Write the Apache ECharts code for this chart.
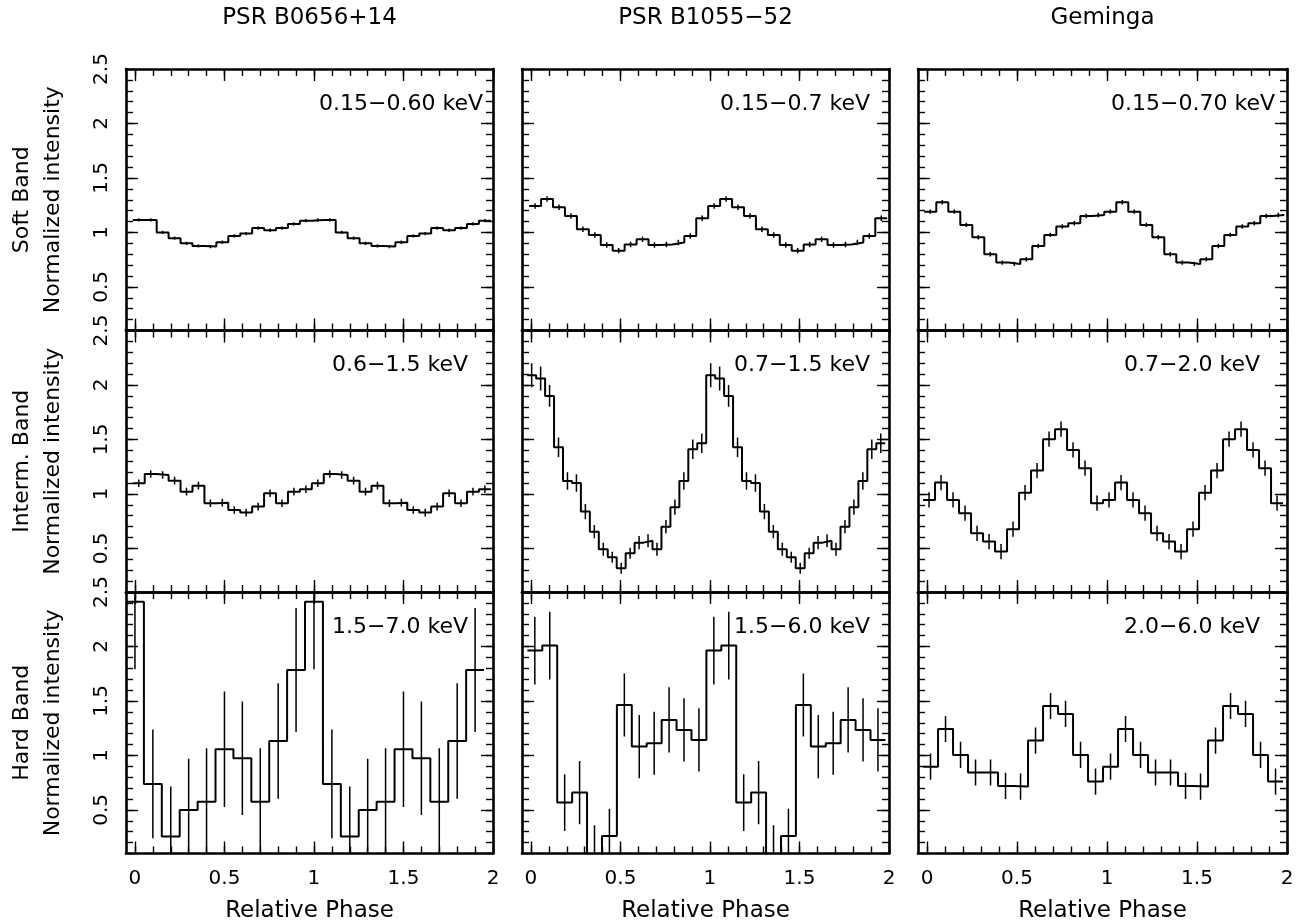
<!DOCTYPE html>
<html><head><meta charset="utf-8">
<script src="https://cdn.jsdelivr.net/npm/echarts@6/dist/echarts.min.js"></script>
<style>html,body{margin:0;padding:0;background:#fff}#c{width:1300px;height:924px}</style>
</head><body><div id="c"></div>
<script>
// ---------- labels ----------
const pulsars = ['PSR B0656+14', 'PSR B1055\u221252', 'Geminga'];
const bands = ['Soft Band', 'Interm. Band', 'Hard Band'];
const yName = 'Normalized intensity';
const xName = 'Relative Phase';
const energyLabels = [
  ['0.15\u22120.60 keV', '0.6\u22121.5 keV', '1.5\u22127.0 keV'],
  ['0.15\u22120.7 keV', '0.7\u22121.5 keV', '1.5\u22126.0 keV'],
  ['0.15\u22120.70 keV', '0.7\u22122.0 keV', '2.0\u22126.0 keV']
];
const xTickValues = [0, 0.5, 1, 1.5, 2];
const xTickLabels = ['0', '0.5', '1', '1.5', '2'];
const yTickValues = [0.5, 1, 1.5, 2, 2.5];
const yTickLabels = ['0.5', '1', '1.5', '2', '2.5'];

// ---------- data (normalized intensity per phase bin, two cycles) ----------
const b0656Soft = [1.115,1.115,1.000,0.947,0.900,0.876,0.870,0.910,0.968,0.990,1.040,1.020,1.040,1.078,1.108,
                   1.115,1.115,1.000,0.947,0.900,0.876,0.870,0.910,0.968,0.990,1.040,1.020,1.040,1.078,1.108];
const b0656SoftErr = [0.015,0.015,0.015,0.015,0.015,0.015,0.015,0.015,0.015,0.015,0.015,0.015,0.015,0.015,0.015,
                      0.015,0.015,0.015,0.015,0.015,0.015,0.015,0.015,0.015,0.015,0.015,0.015,0.015,0.015,0.015];
const b0656Mid = [1.098,1.183,1.174,1.122,1.021,1.076,0.914,0.920,0.853,0.829,0.884,1.006,0.914,1.021,1.043,
                  1.098,1.183,1.174,1.122,1.021,1.076,0.914,0.920,0.853,0.829,0.884,1.006,0.914,1.021,1.043];
const b0656MidErr = [0.035,0.035,0.035,0.035,0.035,0.035,0.035,0.035,0.035,0.035,0.035,0.035,0.035,0.035,0.035,
                     0.035,0.035,0.035,0.035,0.035,0.035,0.035,0.035,0.035,0.035,0.035,0.035,0.035,0.035,0.035];
const b0656Hard = [2.41,0.739,0.255,0.500,0.576,1.057,0.974,0.576,1.133,1.784,
                   2.41,0.739,0.255,0.500,0.576,1.057,0.974,0.576,1.133,1.784];
const b0656HardErr = [0.62,0.50,0.46,0.47,0.49,0.53,0.52,0.49,0.53,0.57,
                      0.62,0.50,0.46,0.47,0.49,0.53,0.52,0.49,0.53,0.57];

const b1055Soft = [1.243,1.307,1.231,1.151,1.029,0.977,0.885,0.833,0.890,0.937,0.885,0.890,0.907,0.968,1.130,
                   1.243,1.307,1.231,1.151,1.029,0.977,0.885,0.833,0.890,0.937,0.885,0.890,0.907,0.968,1.130];
const b1055SoftErr = [0.025,0.025,0.025,0.025,0.025,0.025,0.025,0.025,0.025,0.025,0.025,0.025,0.025,0.025,0.025,
                      0.025,0.025,0.025,0.025,0.025,0.025,0.025,0.025,0.025,0.025,0.025,0.025,0.025,0.025,0.025];
const b1055Mid = [2.090,2.060,1.900,1.428,1.119,1.100,0.838,0.654,0.493,0.419,0.318,0.456,0.553,0.570,0.493,0.700,0.878,1.119,1.410,1.465,
                  2.090,2.060,1.900,1.428,1.119,1.100,0.838,0.654,0.493,0.419,0.318,0.456,0.553,0.570,0.493,0.700,0.878,1.119,1.410,1.465];
const b1055MidErr = [0.11,0.11,0.10,0.09,0.08,0.08,0.07,0.06,0.06,0.05,0.05,0.05,0.06,0.06,0.06,0.06,0.07,0.08,0.09,0.09,
                     0.11,0.11,0.10,0.09,0.08,0.08,0.07,0.06,0.06,0.05,0.05,0.05,0.06,0.06,0.06,0.06,0.07,0.08,0.09,0.09];
const b1055Hard = [1.962,2.008,0.567,0.659,0.000,0.261,1.463,1.081,1.112,1.326,1.234,1.142,
                   1.962,2.008,0.567,0.659,0.000,0.261,1.463,1.081,1.112,1.326,1.234,1.142];
const b1055HardErr = [0.31,0.31,0.26,0.29,0.36,0.25,0.29,0.29,0.29,0.30,0.29,0.29,
                      0.31,0.31,0.26,0.29,0.36,0.25,0.29,0.29,0.29,0.30,0.29,0.29];

const gemSoft = [1.191,1.277,1.191,1.069,0.956,0.800,0.723,0.711,0.754,0.876,0.977,1.054,1.084,1.151,1.160,
                 1.191,1.277,1.191,1.069,0.956,0.800,0.723,0.711,0.754,0.876,0.977,1.054,1.084,1.151,1.160];
const gemSoftErr = [0.02,0.02,0.02,0.02,0.02,0.02,0.02,0.02,0.02,0.02,0.02,0.02,0.02,0.02,0.02,
                    0.02,0.02,0.02,0.02,0.02,0.02,0.02,0.02,0.02,0.02,0.02,0.02,0.02,0.02,0.02];
const gemMid = [0.945,1.104,0.945,0.823,0.639,0.563,0.471,0.676,1.012,1.214,1.502,1.594,1.404,1.236,0.915,
                0.945,1.104,0.945,0.823,0.639,0.563,0.471,0.676,1.012,1.214,1.502,1.594,1.404,1.236,0.915];
const gemMidErr = [0.07,0.07,0.07,0.07,0.07,0.07,0.07,0.07,0.07,0.07,0.07,0.07,0.07,0.07,0.07,
                   0.07,0.07,0.07,0.07,0.07,0.07,0.07,0.07,0.07,0.07,0.07,0.07,0.07,0.07,0.07];
const gemHard = [0.897,1.243,1.005,0.843,0.843,0.720,0.714,1.136,1.454,1.381,1.005,0.760,
                 0.897,1.243,1.005,0.843,0.843,0.720,0.714,1.136,1.454,1.381,1.005,0.760];
const gemHardErr = [0.12,0.12,0.12,0.12,0.12,0.12,0.12,0.12,0.12,0.12,0.12,0.12,
                    0.12,0.12,0.12,0.12,0.12,0.12,0.12,0.12,0.12,0.12,0.12,0.12];

// phase of first bin's left edge, bins per cycle
const panels = [
  {row:0,col:0,vals:b0656Soft,errs:b0656SoftErr,edge0:-0.012,perCycle:15},
  {row:1,col:0,vals:b0656Mid, errs:b0656MidErr, edge0:-0.012,perCycle:15},
  {row:2,col:0,vals:b0656Hard,errs:b0656HardErr,edge0:-0.05, perCycle:10},
  {row:0,col:1,vals:b1055Soft,errs:b1055SoftErr,edge0:-0.010,perCycle:15},
  {row:1,col:1,vals:b1055Mid, errs:b1055MidErr, edge0:-0.021,perCycle:20},
  {row:2,col:1,vals:b1055Hard,errs:b1055HardErr,edge0:-0.020,perCycle:12},
  {row:0,col:2,vals:gemSoft,  errs:gemSoftErr,  edge0:-0.015,perCycle:15},
  {row:1,col:2,vals:gemMid,   errs:gemMidErr,   edge0:-0.022,perCycle:15},
  {row:2,col:2,vals:gemHard,  errs:gemHardErr,  edge0:-0.022,perCycle:12}
];

// ---------- layout ----------
const colLeft = [126, 522, 918];
const colWidth = [367, 367, 369];
const rowTop = [69, 330.5, 592];
const rowHeight = 261.5;
const labelRight = [[483, 468, 468], [870, 870, 870], [1275, 1260, 1260]];
const FONT = 'DejaVu Sans';
const X_MIN = -0.05, X_MAX = 2, Y_MIN = 0.1, Y_MAX = 2.5;

const xMinor = []; for (let k = 0; k <= 20; k++) xMinor.push(+(k * 0.1).toFixed(1));
const yMinor = []; for (let k = 1; k <= 24; k++) yMinor.push(+(k * 0.1).toFixed(1));

function xAxis(g, pos, major, labels) {
  return {
    gridIndex: g, type: 'value', position: pos, min: X_MIN, max: X_MAX,
    axisLine: {show: major, onZero: false, lineStyle: {color: '#000', width: 2.6}},
    axisTick: {show: true, inside: true, length: major ? 12 : 7,
               customValues: major ? xTickValues : xMinor, lineStyle: {color: '#000', width: 1.4}},
    axisLabel: {show: labels, customValues: xTickValues, margin: 15, color: '#000',
                fontFamily: FONT, fontSize: 20, showMinLabel: true, showMaxLabel: true,
                formatter: v => xTickLabels[xTickValues.indexOf(v)]},
    splitLine: {show: false},
    name: labels ? xName : '', nameLocation: 'middle', nameGap: 46,
    nameTextStyle: {color: '#000', fontFamily: FONT, fontSize: 23}
  };
}
function yAxis(g, pos, major, labels, row) {
  return {
    gridIndex: g, type: 'value', position: pos, min: Y_MIN, max: Y_MAX,
    axisLine: {show: major, onZero: false, lineStyle: {color: '#000', width: 2.6}},
    axisTick: {show: true, inside: true, length: major ? 12 : 7,
               customValues: major ? yTickValues : yMinor, lineStyle: {color: '#000', width: 1.4}},
    axisLabel: {show: labels, customValues: yTickValues, rotate: 90, margin: 14, color: '#000',
                fontFamily: FONT, fontSize: 20, showMinLabel: true, showMaxLabel: true,
                formatter: v => yTickLabels[yTickValues.indexOf(v)]},
    splitLine: {show: false},
    name: labels ? bands[row] + '\n' + yName : '', nameLocation: 'middle', nameRotate: 90, nameGap: 57,
    nameTextStyle: {color: '#000', fontFamily: FONT, fontSize: 22, lineHeight: 31}
  };
}

function renderErr(params, api) {
  const x = api.value(0), v = api.value(1), e = api.value(2);
  const p1 = api.coord([x, v - e]), p2 = api.coord([x, v + e]);
  return {type: 'line', shape: {x1: p1[0], y1: p1[1], x2: p2[0], y2: p2[1]},
          style: {stroke: '#000', lineWidth: 1.5}};
}

const grids = [], xAxes = [], yAxes = [], series = [], graphics = [];
panels.forEach((p, g) => {
  grids.push({left: colLeft[p.col], top: rowTop[p.row], width: colWidth[p.col], height: rowHeight,
              containLabel: false, outerBoundsMode: 'none'});
  const xi = xAxes.length, yi = yAxes.length;
  xAxes.push(xAxis(g, 'bottom', true, p.row === 2), xAxis(g, 'bottom', false, false),
             xAxis(g, 'top', true, false), xAxis(g, 'top', false, false));
  yAxes.push(yAxis(g, 'left', true, p.col === 0, p.row), yAxis(g, 'left', false, false, p.row),
             yAxis(g, 'right', true, false, p.row), yAxis(g, 'right', false, false, p.row));
  const w = 1 / p.perCycle;
  const step = p.vals.map((v, i) => [p.edge0 + i * w, v]);
  step.push([p.edge0 + p.vals.length * w, p.vals[p.vals.length - 1]]);
  series.push({type: 'line', xAxisIndex: xi, yAxisIndex: yi, data: step, step: 'end',
               symbol: 'none', clip: true, silent: true, animation: false,
               lineStyle: {color: '#000', width: 2}});
  series.push({type: 'custom', xAxisIndex: xi, yAxisIndex: yi, clip: true, silent: true, animation: false,
               encode: {x: 0, y: 1},
               data: p.vals.map((v, i) => [p.edge0 + (i + 0.5) * w, v, p.errs[i]]),
               renderItem: renderErr});
  graphics.push({type: 'text', z: 100, x: labelRight[p.col][p.row], y: rowTop[p.row] + 35,
                 style: {text: energyLabels[p.col][p.row], fill: '#000', font: '22px "DejaVu Sans"',
                         textAlign: 'right', textVerticalAlign: 'middle'}});
});
pulsars.forEach((name, c) => {
  graphics.push({type: 'text', z: 100, x: colLeft[c] + colWidth[c] / 2, y: 18,
                 style: {text: name, fill: '#000', font: '23px "DejaVu Sans"',
                         textAlign: 'center', textVerticalAlign: 'middle'}});
});

const chart = echarts.init(document.getElementById('c'), null, {renderer: 'canvas'});
chart.setOption({
  backgroundColor: '#fff', animation: false,
  grid: grids, xAxis: xAxes, yAxis: yAxes, series: series, graphic: graphics
});
</script></body></html>
